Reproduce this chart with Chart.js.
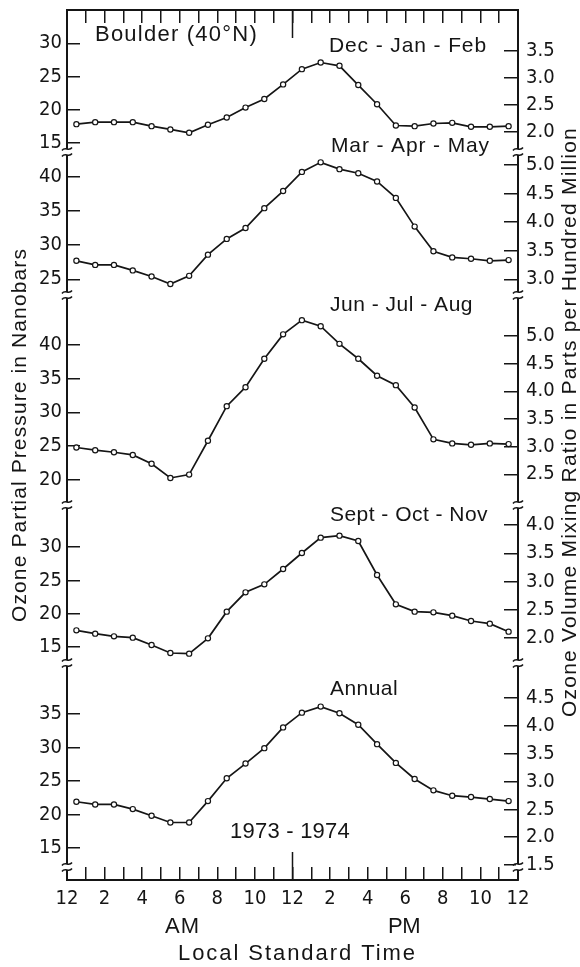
<!DOCTYPE html>
<html><head><meta charset="utf-8">
<script src="https://cdn.jsdelivr.net/npm/chart.js@4.4.1/dist/chart.umd.min.js"></script>
<style>html,body{margin:0;padding:0;background:#fff;}canvas{display:block;}</style>
</head><body>
<canvas id="c" width="580" height="967"></canvas>
<script>
// ---------- DATA ----------
const HOURS = [0.5,1.5,2.5,3.5,4.5,5.5,6.5,7.5,8.5,9.5,10.5,11.5,12.5,13.5,14.5,15.5,16.5,17.5,18.5,19.5,20.5,21.5,22.5,23.5];
const DJF = [17.8,18.1,18.1,18.1,17.5,17.0,16.5,17.7,18.8,20.3,21.6,23.8,26.1,27.1,26.6,23.7,20.8,17.6,17.5,17.9,18.0,17.4,17.4,17.5];
const MAM = [27.7,27.1,27.1,26.3,25.4,24.3,25.5,28.6,30.9,32.5,35.4,37.9,40.7,42.1,41.1,40.5,39.3,36.9,32.7,29.1,28.2,28.0,27.7,27.8];
const JJA = [24.8,24.4,24.1,23.7,22.4,20.3,20.8,25.8,30.9,33.7,37.9,41.5,43.6,42.7,40.1,37.9,35.4,34.0,30.7,26.0,25.4,25.2,25.4,25.3];
const SON = [17.5,17.0,16.6,16.4,15.3,14.1,14.0,16.3,20.3,23.2,24.4,26.7,29.1,31.4,31.7,30.9,25.8,21.4,20.3,20.2,19.7,18.9,18.5,17.3];
const ANNUAL = [21.9,21.5,21.5,20.8,19.8,18.8,18.8,22.0,25.4,27.6,29.9,33.0,35.2,36.1,35.1,33.4,30.5,27.7,25.3,23.6,22.8,22.6,22.3,22.0];
const SERIES = [DJF, MAM, JJA, SON, ANNUAL];
const PANEL_LABELS = ["Dec - Jan - Feb", "Mar - Apr - May", "Jun - Jul - Aug", "Sept - Oct - Nov", "Annual"];
const LEFT_TICKS = [[15,20,25,30],[25,30,35,40],[20,25,30,35,40],[15,20,25,30],[15,20,25,30,35]];
const RIGHT_TICKS = [[2.0,2.5,3.0,3.5],[3.0,3.5,4.0,4.5,5.0],[2.5,3.0,3.5,4.0,4.5,5.0],[2.0,2.5,3.0,3.5,4.0],[1.5,2.0,2.5,3.0,3.5,4.0,4.5]];
const X_TICKS = [0,1,2,3,4,5,6,7,8,9,10,11,12,13,14,15,16,17,18,19,20,21,22,23,24];
const X_LABELS = ["12","","2","","4","","6","","8","","10","","12","","2","","4","","6","","8","","10","","12"];
const LEFT_TITLE = "Ozone Partial Pressure in Nanobars";
const RIGHT_TITLE = "Ozone Volume Mixing Ratio in Parts per Hundred Million";
const X_TITLE = "Local Standard Time";

// ---------- LAYOUT / STYLE ----------
const INK = '#151515';
const TEXT_FONT = '"Liberation Sans", Arial, sans-serif';
const NUM_FONT = '"Liberation Sans Narrow", "DejaVu Sans Condensed", "Liberation Sans", sans-serif';
const LEFT_RANGES = [[13.6,35.02],[22.7,43.61],[16.31,47.31],[12.6,36.3],[10.22,42.61]];
const RIGHT_RANGES = [[1.624,4.254],[2.725,5.227],[1.945,5.739],[1.558,4.354],[1.228,5.132]];
const PANEL_WEIGHTS = [142,143,210,158,217];

function noPad(s) { s.paddingTop = 0; s.paddingBottom = 0; s.paddingLeft = 0; s.paddingRight = 0; }

const scales = {
  x: {
    type:'linear', position:'bottom', min:0, max:24,
    afterFit: s => { s.height = 87; noPad(s); },
    afterBuildTicks: s => { s.ticks = X_TICKS.map(v => ({value:v})); },
    border:{display:true, color:INK, width:2},
    grid:{drawOnChartArea:false, drawTicks:true, tickLength:-13, color:INK, lineWidth:1.5},
    ticks:{autoSkip:false, maxRotation:0, padding:20, color:INK, font:{family:NUM_FONT, size:20},
      callback:(v, i) => X_LABELS[i]}
  },
  xTop: {
    type:'linear', position:'top', min:0, max:24,
    afterFit: s => { s.height = 10; noPad(s); },
    afterBuildTicks: s => { s.ticks = X_TICKS.map(v => ({value:v})); },
    border:{display:true, color:INK, width:2},
    grid:{drawOnChartArea:false, drawTicks:true, tickLength:-13, color:INK, lineWidth:1.5},
    ticks:{display:false}
  }
};
SERIES.forEach((s, i) => {
  scales['yL'+i] = {
    type:'linear', position:'left', stack:'L', stackWeight:PANEL_WEIGHTS[i], weight:10-i,
    min:LEFT_RANGES[i][0], max:LEFT_RANGES[i][1],
    afterFit: sc => { sc.width = 67; noPad(sc); },
    afterBuildTicks: sc => { sc.ticks = LEFT_TICKS[i].map(v => ({value:v})); },
    border:{display:true, color:INK, width:2},
    grid:{drawOnChartArea:false, drawTicks:true, tickLength:-13, color:INK, lineWidth:1.5},
    ticks:{autoSkip:false, padding:18, color:INK, font:{family:NUM_FONT, size:20},
      callback: v => String(v)}
  };
  scales['yR'+i] = {
    type:'linear', position:'right', stack:'R', stackWeight:PANEL_WEIGHTS[i], weight:i+1,
    min:RIGHT_RANGES[i][0], max:RIGHT_RANGES[i][1],
    afterFit: sc => { sc.width = 62; noPad(sc); },
    afterBuildTicks: sc => { sc.ticks = RIGHT_TICKS[i].map(v => ({value:v})); },
    border:{display:true, color:INK, width:2},
    grid:{drawOnChartArea:false, drawTicks:true, tickLength:-14, color:INK, lineWidth:1.5},
    ticks:{autoSkip:false, padding:22, color:INK, font:{family:NUM_FONT, size:20},
      callback: v => Number(v).toFixed(1)}
  };
});

const datasets = SERIES.map((vals, i) => ({
  label: PANEL_LABELS[i],
  data: HOURS.map((h, j) => ({x:h, y:vals[j]})),
  xAxisID:'x', yAxisID:'yL'+i,
  borderColor:INK, borderWidth:1.7, tension:0,
  pointRadius:2.6, pointBorderWidth:1.2, pointBackgroundColor:'#fff', pointBorderColor:INK,
  clip:false
}));

function fitText(ctx, text, x, y, w, size) {
  ctx.font = size + 'px ' + TEXT_FONT;
  ctx.letterSpacing = '0px';
  const m = ctx.measureText(text).width;
  const ls = (w - m) / Math.max(1, text.length);
  ctx.letterSpacing = ls + 'px';
  ctx.textAlign = 'left';
  ctx.textBaseline = 'middle';
  ctx.fillText(text, x, y);
  ctx.letterSpacing = '0px';
}

const decor = {
  id:'decor',
  afterDraw(chart) {
    const ctx = chart.ctx, area = chart.chartArea, xs = chart.scales.x;
    ctx.save();
    ctx.strokeStyle = INK; ctx.fillStyle = INK; ctx.lineWidth = 1.5;
    // long ticks at noon
    const xn = xs.getPixelForValue(12);
    ctx.beginPath();
    ctx.moveTo(xn, area.bottom); ctx.lineTo(xn, area.bottom - 28);
    ctx.moveTo(xn, area.top); ctx.lineTo(xn, area.top + 28);
    ctx.stroke();
    // axis breaks
    const ys = [1,2,3,4].map(i => chart.scales['yL'+i].top).concat([area.bottom - 13]);
    const brk = (x, y) => {
      ctx.fillStyle = '#fff';
      ctx.fillRect(x - 2, y - 3, 4, 6);
      ctx.beginPath();
      for (const dy of [-3, 3]) {
        ctx.moveTo(x - 5, y + dy + 1.5);
        ctx.bezierCurveTo(x - 2, y + dy - 3, x + 2, y + dy + 3, x + 5, y + dy - 1.5);
      }
      ctx.stroke();
    };
    ys.forEach(y => { brk(area.left, y); brk(area.right, y); });
    ctx.fillStyle = INK;
    // texts
    fitText(ctx, "Boulder (40°N)", 95, 35, 163, 22);
    const LBL = [[329,46,158],[331,146,159],[330,305,143],[330,515,158],[330,689,68]];
    PANEL_LABELS.forEach((t, i) => fitText(ctx, t, LBL[i][0], LBL[i][1], LBL[i][2], 21));
    fitText(ctx, "1973 - 1974", 230, 832, 120, 22);
    fitText(ctx, "AM", 165, 927, 35, 22);
    fitText(ctx, "PM", 388, 927, 32, 22);
    fitText(ctx, X_TITLE, 178, 954, 239, 22);
    // rotated titles
    ctx.save(); ctx.translate(20, 622); ctx.rotate(-Math.PI/2);
    fitText(ctx, LEFT_TITLE, 0, 0, 374, 21); ctx.restore();
    ctx.save(); ctx.translate(570, 717); ctx.rotate(-Math.PI/2);
    fitText(ctx, RIGHT_TITLE, 0, 0, 590, 21); ctx.restore();
    ctx.restore();
  }
};

new Chart(document.getElementById('c'), {
  type:'line',
  data:{datasets},
  options:{
    responsive:false, animation:false,
    layout:{padding:0},
    plugins:{legend:{display:false}, tooltip:{enabled:false}},
    scales
  },
  plugins:[decor]
});
</script>
</body></html>
